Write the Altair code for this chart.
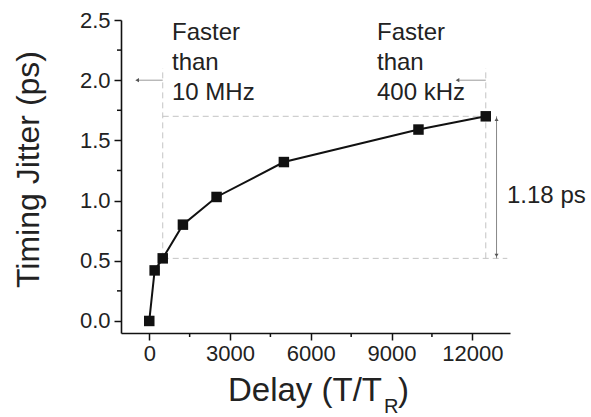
import altair as alt
import pandas as pd

# Measured timing jitter against delay (in units of the round-trip period T_R)
delay = [0, 200, 500, 1250, 2500, 5000, 10000, 12500]
jitter = [0.00, 0.42, 0.52, 0.80, 1.03, 1.32, 1.59, 1.70]

# Axis ticks
x_ticks = [0, 3000, 6000, 9000, 12000]
x_minor = [1500, 4500, 7500, 10500]
y_ticks = [0.0, 0.5, 1.0, 1.5, 2.0, 2.5]
y_minor = [0.25, 0.75, 1.25, 1.75, 2.25]

# Annotation texts
left_note = "Faster\nthan\n10 MHz"
right_note = "Faster\nthan\n400 kHz"
span_note = "1.18 ps"

FONT = "Liberation Sans"
W, H = 389, 313

x_scale = alt.Scale(domain=[-1050, 13400], nice=False, zero=False)
y_scale = alt.Scale(domain=[-0.1, 2.5], nice=False, zero=False)

data = pd.DataFrame({"delay": delay, "jitter": jitter})

# Jitter span between the 500 T_R point and the 12500 T_R point
lo, hi = jitter[2], jitter[-1]
x_lo, x_hi = delay[2], delay[-1]
top_guide = 2.1
span_x = 12900

x_axis = alt.Axis(values=x_ticks, format="d", title=None, grid=False,
                  labelFont=FONT, labelFontSize=22, labelColor="#222",
                  labelPadding=3, tickSize=7, tickWidth=1.5, tickColor="#111",
                  domainColor="#111", domainWidth=1.6)
y_axis = alt.Axis(values=y_ticks, format=".1f", grid=False,
                  title="Timing Jitter (ps)", titleFont=FONT, titleFontSize=32,
                  titleFontWeight="normal", titleColor="#222",
                  titleX=-93, titleY=149, titleAlign="center", titleBaseline="middle",
                  labelFont=FONT, labelFontSize=22, labelColor="#222",
                  labelPadding=4, tickSize=7, tickWidth=1.5, tickColor="#111",
                  domainColor="#111", domainWidth=1.6)

# Main series: line with square markers
line = alt.Chart(data).mark_line(color="#111", strokeWidth=2).encode(
    x=alt.X("delay:Q", scale=x_scale, axis=x_axis),
    y=alt.Y("jitter:Q", scale=y_scale, axis=y_axis),
)
points = alt.Chart(data).mark_point(shape="square", filled=True, opacity=1,
                                    color="#111", size=110).encode(
    x=alt.X("delay:Q", scale=x_scale),
    y=alt.Y("jitter:Q", scale=y_scale),
)

# Minor ticks
y_minor_ticks = alt.Chart(pd.DataFrame({"v": y_minor})).mark_rule(
    color="#111", strokeWidth=1.5).encode(
    y=alt.Y("v:Q", scale=y_scale), x=alt.value(-4), x2=alt.value(0))
x_minor_ticks = alt.Chart(pd.DataFrame({"v": x_minor})).mark_rule(
    color="#111", strokeWidth=1.5).encode(
    x=alt.X("v:Q", scale=x_scale), y=alt.value(H), y2=alt.value(H + 4))

# Dashed guide box
guides = pd.DataFrame({
    "x": [x_lo, x_lo, x_lo, x_hi],
    "x2": [13300, x_hi, x_lo, x_hi],
    "y": [lo, hi, lo, lo],
    "y2": [lo, hi, top_guide, top_guide],
})
dashed = alt.Chart(guides).mark_rule(color="#c4c4c4", strokeWidth=1,
                                     strokeDash=[6, 4]).encode(
    x=alt.X("x:Q", scale=x_scale), x2="x2:Q",
    y=alt.Y("y:Q", scale=y_scale), y2="y2:Q")

# "Faster than" arrows at the 2.0 ps level
arrows = pd.DataFrame({"x": [-450, 11450], "x2": [x_lo, x_hi], "y": [2.0, 2.0]})
arrow_lines = alt.Chart(arrows).mark_rule(color="#9a9a9a", strokeWidth=1).encode(
    x=alt.X("x:Q", scale=x_scale), x2="x2:Q", y=alt.Y("y:Q", scale=y_scale))
arrow_heads = alt.Chart(arrows).mark_point(shape="triangle-left", filled=True,
                                           opacity=1, color="#555", size=18).encode(
    x=alt.X("x:Q", scale=x_scale), y=alt.Y("y:Q", scale=y_scale))

# Vertical span arrow for the 1.18 ps difference
span = pd.DataFrame({"x": [span_x], "y": [lo], "y2": [hi]})
span_line = alt.Chart(span).mark_rule(color="#888", strokeWidth=1).encode(
    x=alt.X("x:Q", scale=x_scale), y=alt.Y("y:Q", scale=y_scale), y2="y2:Q")
span_top = alt.Chart(span).mark_point(shape="triangle-up", filled=True, opacity=1,
                                      color="#555", size=16, yOffset=3).encode(
    x=alt.X("x:Q", scale=x_scale), y=alt.Y("y2:Q", scale=y_scale))
span_bot = alt.Chart(span).mark_point(shape="triangle-down", filled=True, opacity=1,
                                      color="#555", size=16, yOffset=-3).encode(
    x=alt.X("x:Q", scale=x_scale), y=alt.Y("y:Q", scale=y_scale))


def label(text, x, y, size=24, **kw):
    return alt.Chart(pd.DataFrame({"t": [text]})).mark_text(
        font=FONT, fontSize=size, color="#222", align="left",
        baseline="alphabetic", lineBreak="\n", lineHeight=30, **kw).encode(
        text="t:N", x=alt.value(x), y=alt.value(y))


notes = [
    label(left_note, 51, 19.5),
    label(right_note, 256, 19.5),
    label(span_note, 386, 182.5),
    # x-axis title with subscript R
    label("Delay (T/T", 107, 381, size=33),
    label("R", 263, 392.5, size=20),
    label(")", 277, 381, size=33),
]

chart = alt.layer(
    dashed, arrow_lines, arrow_heads, span_line, span_top, span_bot,
    y_minor_ticks, x_minor_ticks, line, points, *notes
).properties(
    width=W, height=H,
    autosize=alt.AutoSizeParams(type="none"),
    padding={"left": 121, "top": 20, "right": 81, "bottom": 84},
).configure_view(stroke="transparent")

chart.save("out.html", embed_options={"renderer": "svg", "actions": False})
